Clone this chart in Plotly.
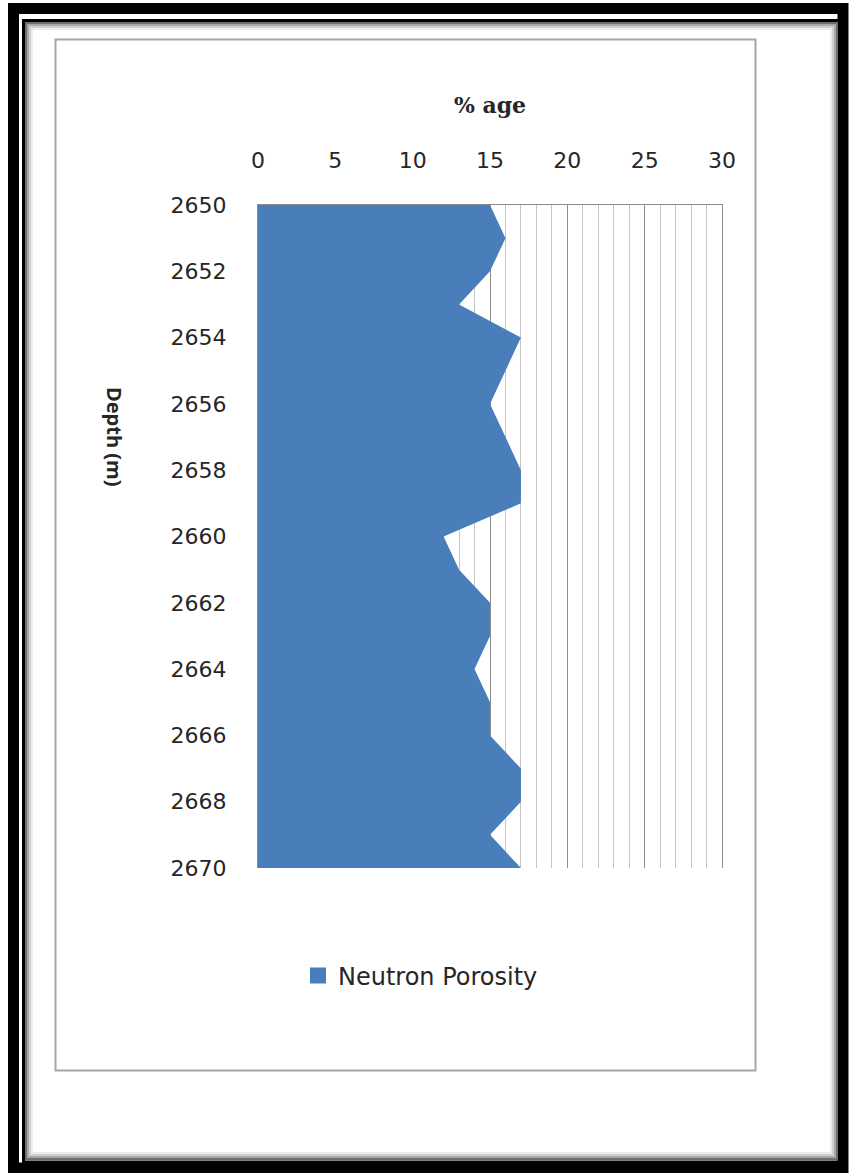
import plotly.graph_objects as go

# Neutron porosity log, one reading per metre of depth
depth_m = [2650, 2651, 2652, 2653, 2654, 2655, 2656, 2657, 2658, 2659, 2660,
           2661, 2662, 2663, 2664, 2665, 2666, 2667, 2668, 2669, 2670]
neutron_porosity = [15, 16, 15, 13, 17, 16, 15, 16, 17, 17, 12,
                    13, 15, 15, 14, 15, 15, 17, 17, 15, 17]
x_ticks = [0, 5, 10, 15, 20, 25, 30]
y_ticks = [2650, 2652, 2654, 2656, 2658, 2660, 2662, 2664, 2666, 2668, 2670]

W, H = 849, 1173
L, R, T, B = 258, 127, 205, 305
PW, PH = W - L - R, H - T - B

FILL = "#4a7ebb"
TEXT = "#262626"
TICK_FONT = dict(family="DejaVu Sans", size=22, color=TEXT)


def px(x):
    return (x - L) / PW


def py(y):
    return (H - B - y) / PH


fig = go.Figure()

fig.add_trace(go.Scatter(
    x=neutron_porosity, y=depth_m, mode="lines", fill="tozerox",
    fillcolor=FILL, line=dict(width=0, color=FILL), showlegend=False,
    hoverinfo="x+y",
))
# legend entry drawn as a square swatch
fig.add_trace(go.Scatter(
    x=[None], y=[None], mode="markers", name="Neutron Porosity",
    marker=dict(symbol="square", size=16, color=FILL),
))

shapes = []


def rect(x0, y0, x1, y1, color, width):
    shapes.append(dict(type="rect", xref="paper", yref="paper",
                       x0=px(x0), x1=px(x1), y0=py(y0), y1=py(y1),
                       line=dict(color=color, width=width), layer="above"))


# outer black frame, thin inner black rule and soft inner shadow
rect(13.5, 8.5, 843, 1168, "#000000", 11)
rect(23.5, 20.5, 839.5, 1162, "#000000", 3)
for i, c in enumerate(["#6e6e6e", "#a8a8a8", "#d0d0d0", "#ececec"]):
    d = 26 + 2 * i
    rect(d, 23 + 2 * i, 837 - 2 * i, 1159 - 2 * i, c, 2)
# chart area border
rect(55.5, 39.5, 755.5, 1070.5, "#a6a6a6", 2)

fig.update_layout(
    width=W, height=H,
    margin=dict(l=L, r=R, t=T, b=B),
    paper_bgcolor="white", plot_bgcolor="white",
    shapes=shapes,
    showlegend=True,
    legend=dict(
        x=px(298), y=py(976), xanchor="left", yanchor="middle",
        font=dict(family="DejaVu Sans", size=24, color=TEXT),
        bgcolor="rgba(0,0,0,0)",
    ),
    xaxis=dict(
        side="top", range=[0, 30], tickvals=x_ticks, ticktext=[str(v) for v in x_ticks],
        tickfont=TICK_FONT, ticks="", ticklabelstandoff=27,
        showgrid=True, gridcolor="#8c8c8c", gridwidth=1,
        minor=dict(dtick=1, showgrid=True, gridcolor="#c4c4c4", gridwidth=1),
        zeroline=False, showline=True, linecolor="#8c8c8c", linewidth=1,
        layer="below traces", fixedrange=True,
        title=dict(text="<b>% age</b>", standoff=28,
                   font=dict(family="DejaVu Serif", size=22, color=TEXT)),
    ),
    yaxis=dict(
        range=[2670, 2650], tickvals=y_ticks, ticktext=[str(v) for v in y_ticks],
        tickfont=TICK_FONT, ticks="", ticklabelstandoff=26,
        showgrid=False, zeroline=False,
        showline=True, mirror=True, linecolor="#8c8c8c", linewidth=1,
        layer="below traces", fixedrange=True,
    ),
    annotations=[dict(
        text="<b>Depth (m)</b>", textangle=90, xref="paper", yref="paper",
        x=px(115), y=py(437), xanchor="center", yanchor="middle", showarrow=False,
        font=dict(family="Open Sans", size=20, color=TEXT),
    )],
)

fig.write_html("out.html")
